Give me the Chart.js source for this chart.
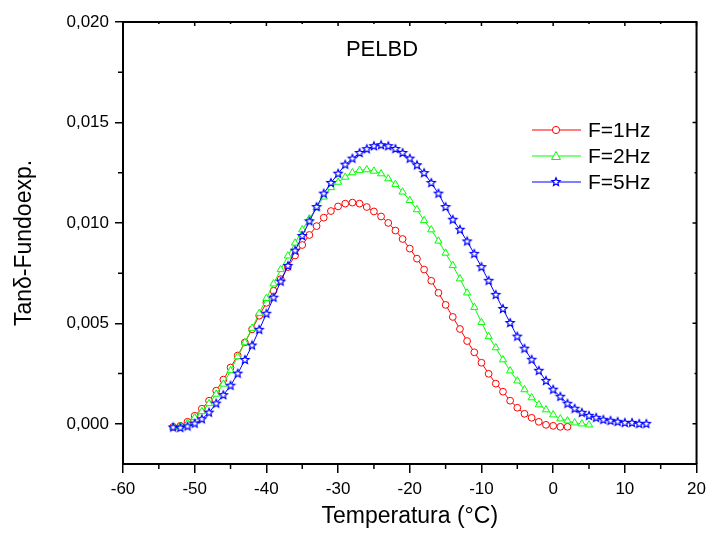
<!DOCTYPE html>
<html>
<head>
<meta charset="utf-8">
<script src="https://cdn.jsdelivr.net/npm/chart.js@4.4.0/dist/chart.umd.min.js"></script>
<style>
html, body { margin: 0; padding: 0; background: #fff; }
</style>
</head>
<body>
<canvas id="tan" width="712" height="540"></canvas>
<script>
// series, one point per degree
const seriesNames = ['F=1Hz', 'F=2Hz', 'F=5Hz'];
const seriesColors = ['#ff0000', '#00ff00', '#0000ff'];
const tStart = [-53, -53, -53];

const tanRed = [
  -0.00015, -0.00010, 0.00010, 0.00040, 0.00075, 0.00115, 0.00165, 0.00220, 0.00280, 0.00340,
  0.00405, 0.00470, 0.00538, 0.00602, 0.00662, 0.00720, 0.00780, 0.00838, 0.00890, 0.00940,
  0.00984, 0.01026, 0.01059, 0.01082, 0.01096, 0.01101, 0.01096, 0.01079, 0.01057, 0.01032,
  0.01000, 0.00962, 0.00920, 0.00872, 0.00822, 0.00768, 0.00712, 0.00652, 0.00592, 0.00532,
  0.00472, 0.00412, 0.00356, 0.00304, 0.00249, 0.00200, 0.00160, 0.00115, 0.00080, 0.00050,
  0.00030, 0.00010, -0.00005, -0.00010, -0.00015, -0.00015
];
const tanGreen = [
  -0.00018, -0.00013, 0.00003, 0.00031, 0.00061, 0.00101, 0.00148, 0.00198, 0.00265, 0.00334,
  0.00404, 0.00476, 0.00550, 0.00624, 0.00697, 0.00768, 0.00836, 0.00900, 0.00966, 0.01021,
  0.01076, 0.01129, 0.01176, 0.01203, 0.01228, 0.01250, 0.01262, 0.01265, 0.01258, 0.01245,
  0.01220, 0.01192, 0.01154, 0.01112, 0.01066, 0.01012, 0.00966, 0.00910, 0.00850, 0.00788,
  0.00722, 0.00652, 0.00580, 0.00505, 0.00434, 0.00379, 0.00319, 0.00264, 0.00214, 0.00170,
  0.00130, 0.00095, 0.00070, 0.00045, 0.00025, 0.00015, 0.00005, 0.00000, -0.00005
];
const tanBlue = [
  -0.00018, -0.00020, -0.00013, 0.00001, 0.00023, 0.00056, 0.00101, 0.00143, 0.00190, 0.00250,
  0.00318, 0.00390, 0.00468, 0.00548, 0.00628, 0.00708, 0.00786, 0.00862, 0.00935, 0.01008,
  0.01079, 0.01146, 0.01199, 0.01245, 0.01290, 0.01320, 0.01348, 0.01367, 0.01382, 0.01387,
  0.01382, 0.01368, 0.01348, 0.01320, 0.01287, 0.01248, 0.01199, 0.01146, 0.01079, 0.01016,
  0.00966, 0.00908, 0.00846, 0.00780, 0.00712, 0.00642, 0.00572, 0.00502, 0.00434, 0.00374,
  0.00319, 0.00264, 0.00214, 0.00170, 0.00135, 0.00100, 0.00075, 0.00055, 0.00040, 0.00030,
  0.00020, 0.00015, 0.00010, 0.00005, 0.00005, 0.00000, 0.00000
];

const xTicks = [-60, -50, -40, -30, -20, -10, 0, 10, 20];
const xMinor = [-55, -45, -35, -25, -15, -5, 5, 15];
const yTicks = [0, 0.005, 0.010, 0.015, 0.020];
const yMinor = [0.0025, 0.0075, 0.0125, 0.0175];

const FONT = '"Liberation Sans", Arial, sans-serif';

function toPoints(start, vals) {
  return vals.map(function(v, i) { return {x: start + i, y: v}; });
}

// hollow 5 point star, used as point style
function makeStar(color, r) {
  const c = document.createElement('canvas');
  const s = Math.ceil(r * 2 + 3);
  c.width = s; c.height = s;
  const g = c.getContext('2d');
  g.translate(s / 2, s / 2);
  g.beginPath();
  for (let i = 0; i < 10; i++) {
    const rad = i % 2 ? r * 0.45 : r;
    const a = -Math.PI / 2 + i * Math.PI / 5;
    g.lineTo(rad * Math.cos(a), rad * Math.sin(a));
  }
  g.closePath();
  g.fillStyle = '#fff'; g.fill();
  g.strokeStyle = color; g.lineWidth = 1.2; g.stroke();
  return c;
}
const starImg = makeStar('#0000ff', 4.3);

// box, inner ticks, minor ticks, legend and PELBD label
const framePlugin = {
  id: 'frame',
  afterDraw(chart) {
    const ctx = chart.ctx;
    const a = chart.chartArea;
    const sx = chart.scales.x, sy = chart.scales.y;
    ctx.save();
    ctx.strokeStyle = '#000';
    ctx.lineWidth = 2;
    ctx.beginPath();
    ctx.moveTo(a.left, a.top); ctx.lineTo(a.right, a.top); ctx.lineTo(a.right, a.bottom);
    ctx.stroke();

    ctx.lineWidth = 1.5;
    ctx.beginPath();
    xTicks.forEach(function(v) {
      const p = sx.getPixelForValue(v);
      ctx.moveTo(p, a.top); ctx.lineTo(p, a.top + 4);
    });
    xMinor.forEach(function(v) {
      const p = sx.getPixelForValue(v);
      ctx.moveTo(p, a.top); ctx.lineTo(p, a.top + 2);
      ctx.moveTo(p, a.bottom); ctx.lineTo(p, a.bottom + 5);
    });
    yTicks.forEach(function(v) {
      const p = sy.getPixelForValue(v);
      ctx.moveTo(a.right, p); ctx.lineTo(a.right - 4, p);
    });
    yMinor.forEach(function(v) {
      const p = sy.getPixelForValue(v);
      ctx.moveTo(a.right, p); ctx.lineTo(a.right - 2, p);
      ctx.moveTo(a.left, p); ctx.lineTo(a.left - 5, p);
    });
    ctx.stroke();

    ctx.fillStyle = '#000';
    ctx.font = '22px ' + FONT;
    ctx.textAlign = 'center';
    ctx.textBaseline = 'middle';
    ctx.fillText('PELBD', 382, 50);

    // legend
    const rows = [130, 156, 182];
    ctx.font = '21px ' + FONT;
    ctx.textAlign = 'left';
    rows.forEach(function(y, i) {
      ctx.strokeStyle = seriesColors[i];
      ctx.lineWidth = 1;
      ctx.beginPath(); ctx.moveTo(532, y); ctx.lineTo(581, y); ctx.stroke();
      ctx.fillStyle = '#fff';
      if (i === 0) {
        ctx.beginPath(); ctx.arc(556, y, 3.6, 0, Math.PI * 2); ctx.fill(); ctx.stroke();
      } else if (i === 1) {
        ctx.beginPath();
        ctx.moveTo(556, y - 4.5); ctx.lineTo(560.5, y + 3.5); ctx.lineTo(551.5, y + 3.5);
        ctx.closePath(); ctx.fill(); ctx.stroke();
      } else {
        ctx.drawImage(starImg, 556 - starImg.width / 2, y - starImg.height / 2);
      }
      ctx.fillStyle = '#000';
      ctx.fillText(seriesNames[i], 588, y + 1);
    });
    ctx.restore();
  }
};

const pointStyles = ['circle', 'triangle', starImg];
const pointRadius = [3.4, 4.2, 4.3];
const seriesData = [tanRed, tanGreen, tanBlue];

const datasets = seriesData.map(function(vals, i) {
  return {
    label: seriesNames[i],
    data: toPoints(tStart[i], vals),
    borderColor: seriesColors[i],
    backgroundColor: '#ffffff',
    borderWidth: 1,
    pointStyle: pointStyles[i],
    pointRadius: pointRadius[i],
    pointBorderWidth: 1,
    pointBorderColor: seriesColors[i],
    pointBackgroundColor: '#ffffff',
    tension: 0,
    fill: false,
    order: 3 - i
  };
});

new Chart(document.getElementById('tan'), {
  type: 'line',
  data: {datasets: datasets},
  plugins: [framePlugin],
  options: {
    responsive: false,
    animation: false,
    devicePixelRatio: 1,
    layout: {padding: {top: 22, right: 12, left: 0, bottom: 0}},
    plugins: {legend: {display: false}, tooltip: {enabled: false}},
    scales: {
      x: {
        type: 'linear',
        min: -60, max: 20,
        afterBuildTicks: function(s) { s.ticks = xTicks.map(function(v) { return {value: v}; }); },
        afterFit: function(s) { s.height = 76; },
        border: {display: true, color: '#000', width: 2},
        grid: {drawOnChartArea: false, drawTicks: true, tickLength: 9, color: '#000', lineWidth: 1.5},
        ticks: {color: '#000', padding: 6, maxRotation: 0, font: {family: FONT, size: 17}},
        title: {display: true, text: 'Temperatura (°C)', color: '#000',
                padding: {top: 0, bottom: 10}, font: {family: FONT, size: 23}}
      },
      y: {
        type: 'linear',
        min: -0.002, max: 0.020,
        afterBuildTicks: function(s) { s.ticks = yTicks.map(function(v) { return {value: v}; }); },
        afterFit: function(s) { s.width = 123; },
        border: {display: true, color: '#000', width: 2},
        grid: {drawOnChartArea: false, drawTicks: true, tickLength: 8, color: '#000', lineWidth: 1.5},
        ticks: {
          color: '#000', padding: 6, font: {family: FONT, size: 17},
          callback: function(v) { return v.toFixed(3).replace('.', ','); }
        },
        title: {display: true, text: 'Tanδ-Fundoexp.', color: '#000',
                padding: {top: 11, bottom: 0}, font: {family: FONT, size: 23}}
      }
    }
  }
});
</script>
</body>
</html>
